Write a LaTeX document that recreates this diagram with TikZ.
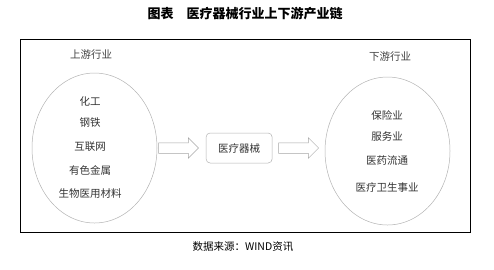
\documentclass[tikz,border=0pt]{standalone}
\usepackage{fontspec}
\setmainfont{Noto Sans CJK SC}
\usepackage{tikz}
\usetikzlibrary{positioning,shapes.geometric,shapes.arrows}

\begin{document}
\begin{tikzpicture}[
  x=1pt, y=-1pt,
  node distance=7pt,
  titlenode/.style={font=\fontsize{13}{15}\selectfont\bfseries, text=black},
  framebox/.style={draw=black, line width=0.8pt},
  ellnode/.style={ellipse, draw=gray!60, line width=0.5pt,
                  minimum width=125pt, minimum height=150pt, inner sep=0pt},
  headnode/.style={font=\fontsize{10.5}{12}\selectfont, text=black!75},
  itemnode/.style={font=\fontsize{10.5}{12}\selectfont, text=black!80, inner sep=1pt},
  mainnode/.style={rectangle, rounded corners=4pt, draw=gray!60, line width=0.5pt,
                   minimum width=66pt, minimum height=30pt,
                   font=\fontsize{10.5}{12}\selectfont, text=black!80},
  blockarrow/.style={single arrow, draw=gray!70, fill=white, line width=0.5pt,
                     minimum height=40pt, minimum width=20pt, inner sep=5pt,
                     single arrow head extend=5pt},
  srcnode/.style={font=\fontsize{10.5}{12}\selectfont, text=black}
]
\useasboundingbox (0,0) rectangle (494,269);

% Title and frame
\node[titlenode] (title) at (245,14) {图表\quad 医疗器械行业上下游产业链};
\draw[framebox] (20,39) rectangle (470,232);

% Upstream
\node[ellnode] (upell) at (94.5,148) {};
\node[headnode] (uphead) at (91,55) {上游行业};
\node[itemnode] (u1) at (90,102) {化工};
\node[itemnode] (u2) at (90,123) {钢铁};
\node[itemnode] (u3) at (90,147) {互联网};
\node[itemnode] (u4) at (90,170) {有色金属};
\node[itemnode] (u5) at (90,194) {生物医用材料};

% Middle
\node[blockarrow, right=1pt of upell] (arrA) {};
\node[mainnode, right=7pt of arrA] (device) {医疗器械};
\node[blockarrow, right=6pt of device] (arrB) {};

% Downstream
\node[ellnode, minimum height=148pt] (downell) at (387.5,151) {};
\node[headnode] (downhead) at (390,57) {下游行业};
\node[itemnode] (d1) at (387,115) {保险业};
\node[itemnode] (d2) at (387,137) {服务业};
\node[itemnode] (d3) at (387,160) {医药流通};
\node[itemnode] (d4) at (387,187) {医疗卫生事业};

% Source
\node[srcnode] (source) at (243,247) {数据来源：WIND资讯};

\end{tikzpicture}
\end{document}
